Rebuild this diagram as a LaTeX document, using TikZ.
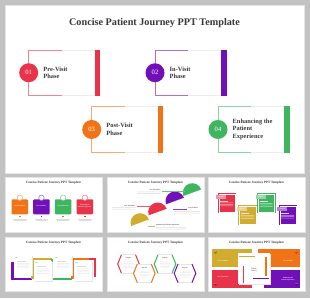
\documentclass[tikz,border=0pt]{standalone}
\usepackage{fontspec}
\setmainfont{Liberation Serif}
\usetikzlibrary{shapes.geometric}

\definecolor{pred}{HTML}{E8334A}
\definecolor{ppurple}{HTML}{7210B8}
\definecolor{porange}{HTML}{F07417}
\definecolor{pgreen}{HTML}{3FB560}
\definecolor{pgold}{HTML}{D1AC2E}
\definecolor{backdrop}{HTML}{C2C2C2}
\definecolor{ink}{HTML}{383838}

\tikzset{
  slide/.style={fill=white, draw=black!10, line width=0.4pt},
  maintitle/.style={text=ink, font=\bfseries\fontsize{10.2}{10.6}\selectfont, inner sep=0pt},
  thumbtitle/.style={text=ink, font=\bfseries\fontsize{3.3}{3.5}\selectfont, inner sep=0pt},
  numdot/.style={circle, fill=#1, minimum size=19pt, inner sep=0pt, text=white,
    font=\fontsize{6.6}{6.6}\selectfont},
  phase/.style={anchor=west, align=left, text=ink, inner sep=0pt,
    font=\bfseries\fontsize{6.4}{7.6}\selectfont},
  tinytext/.style={inner sep=0pt, align=center, font=\bfseries\fontsize{1.6}{1.9}\selectfont},
  greyline/.style={fill=black!14},
}

\begin{document}
\begin{tikzpicture}[x=1pt, y=-1pt]
\fill[backdrop] (0,0) rectangle (310,298);
\useasboundingbox (0,0) rectangle (310,298);

% main slide
\draw[slide] (5,5) rectangle (304,173);
\node[maintitle] (title) at (154.5,23) {Concise Patient Journey PPT Template};

\foreach \L/\T/\col/\num/\txt in {28.7/50/pred/01/{Pre-Visit\\Phase},
    155/50/ppurple/02/{In-Visit\\Phase},
    91.7/106.7/porange/03/{Post-Visit\\Phase},
    218/106.7/pgreen/04/{Enhancing the\\Patient\\Experience}} {
  \draw[black!7, line width=1pt] (\L+33,\T) -- (\L+66,\T) (\L+33,\T+45.5) -- (\L+66,\T+45.5);
  \draw[\col!60, line width=1pt] (\L+33,\T) -- (\L,\T) -- (\L,\T+45.5) -- (\L+33,\T+45.5);
  \fill[\col] (\L+66,\T-0.5) rectangle (\L+71.5,\T+46);
  \node[numdot=\col] (dot\num) at (\L,\T+22.75) {\num};
  \node[phase] (phase\num) at (\L+14.5,\T+22.75) {\txt};
}

% thumbnails
\foreach \px/\py/\k in {5/177.3/1, 107/177.3/2, 208/177.3/3, 5/236.7/4, 107/236.7/5, 208/236.7/6} {
  \draw[slide] (\px,\py) rectangle ++(97,54.5);
  \node[thumbtitle] (thumb\k) at (\px+48.5,\py+5.6) {Concise Patient Journey PPT Template};
}

% thumb 1: boxes
\begin{scope}[shift={(5,177.3)}]
  \foreach \i/\col/\txt in {0/porange/{Pre-Visit Phase}, 1/ppurple/{In-Visit Phase},
      2/pgreen/{Post-Visit Phase}, 3/pred/{Enhancing the\\Patient Experience}} {
    \fill[\col, rounded corners=1pt] (6.5+21.7*\i,22) rectangle ++(16.5,15);
    \node[circle, draw=\col!70, fill=white, line width=0.5pt, minimum size=5.5pt,
      inner sep=0pt] (ring\i) at (14.75+21.7*\i,20.5) {};
    \node[tinytext, text=white] (box\i) at (14.75+21.7*\i,28.5) {\txt};
    \fill[\col] (14+21.7*\i,38.2) rectangle ++(1.5,1.5);
    \fill[greyline] (8+21.7*\i,41.2) rectangle ++(13.5,0.6);
    \fill[greyline] (9+21.7*\i,43) rectangle ++(11.5,0.6);
  }
\end{scope}

% thumb 2: fans
\begin{scope}[shift={(107,177.3)}]
  \foreach \cx/\cy/\col in {33/45.4/pgold, 50.7/34.7/pred, 68/23.7/ppurple, 85.3/15.4/pgreen}
    \fill[\col] (\cx,\cy) ++(160:9.5) arc[start angle=160, end angle=340, radius=9.5] -- cycle;
  \draw[pgreen!80, line width=0.5pt] (54.7,13.7) -- (78,13.7);
  \draw[pred!80, line width=0.5pt] (29.7,29.4) -- (43,29.4);
  \draw[ppurple!80, line width=0.5pt] (66,32) -- (79.7,32);
  \draw[pgold!80, line width=0.5pt] (41.3,49.4) -- (48,49.4);
  \node[tinytext, text=ink, anchor=east] (lab1) at (53.5,12.6) {Pre-Visit Phase};
  \node[tinytext, text=ink, anchor=east] (lab2) at (28.5,28.3) {Post-Visit Phase};
  \node[tinytext, text=ink, anchor=west] (lab3) at (81,30.9) {In-Visit Phase};
  \node[tinytext, text=ink, anchor=west] (lab4) at (49,48.3) {Enhancing the Patient Experience};
  \fill[greyline] (30,14.4) rectangle ++(23.5,0.5) (30,16) rectangle ++(23.5,0.5);
  \fill[greyline] (5,30) rectangle ++(23.5,0.5) (5,31.6) rectangle ++(23.5,0.5);
  \fill[greyline] (67,34) rectangle ++(26,0.5) (67,35.6) rectangle ++(26,0.5);
  \fill[greyline] (49,50) rectangle ++(30,0.5) (49,51.6) rectangle ++(30,0.5);
\end{scope}

% thumb 3: steps
\begin{scope}[shift={(208,177.3)}]
  \foreach \bx/\by/\col/\n in {9.7/15.4/pred/01, 30.3/28/pgold/02, 49/16/pgreen/03, 70.7/27.7/ppurple/04} {
    \fill[\col] (\bx,\by) rectangle ++(18.5,20);
    \draw[white, line width=0.4pt] (\bx+1,\by+1) rectangle ++(16.5,18);
    \fill[\col!55] (\bx-1.5,\by+2) rectangle ++(10,4);
    \node[tinytext, text=white] (step\n) at (\bx+3.5,\by+4) {Step \n};
    \fill[white!80!\col] (\bx+2.5,\by+8) rectangle ++(8,0.6);
    \fill[white!60!\col] (\bx+2.5,\by+10) rectangle ++(13,0.5) (\bx+2.5,\by+11.4) rectangle ++(13,0.5)
      (\bx+2.5,\by+12.8) rectangle ++(13,0.5);
  }
\end{scope}

% thumb 4: path
\begin{scope}[shift={(5,236.7)}]
  \draw[ppurple, line width=2.6pt] (7.3,25) -- (7.3,42.3) -- (27.3,42.3);
  \draw[pgold, line width=2.6pt] (27.3,42.3) -- (27.3,22.3) -- (47,22.3);
  \draw[pgreen, line width=2.6pt] (47,22.3) -- (47,42.3) -- (67.3,42.3);
  \draw[porange, line width=2.6pt] (67.3,42.3) -- (67.3,22.3) -- (84,22.3);
  \draw[pred, line width=2.6pt] (84,22.3) -- (90,22.3) -- (90,40);
  \foreach \cx/\cy/\n in {9/19/01, 29/24.3/02, 49/19/03, 69/24.3/04} {
    \fill[black!10] (\cx+0.5,\cy+0.5) rectangle ++(18.3,20);
    \fill[white] (\cx,\cy) rectangle ++(18.3,20);
    \node[tinytext, text=ink] (card\n) at (\cx+2.5,\cy+2) {\n};
    \fill[greyline] (\cx+3,\cy+5) rectangle ++(9,0.6);
    \fill[black!9] (\cx+3,\cy+7.5) rectangle ++(12,0.5) (\cx+3,\cy+9) rectangle ++(12,0.5)
      (\cx+3,\cy+10.5) rectangle ++(12,0.5) (\cx+3,\cy+12) rectangle ++(12,0.5);
  }
\end{scope}

% thumb 5: hexagons
\begin{scope}[shift={(107,236.7)}]
  \foreach \hx/\hy/\col/\n in {21.5/27.3/pred/01, 37.3/36.6/porange/02, 58/27.3/pgreen/03, 78/36.6/ppurple/04} {
    \fill[white] (\hx-7,\hy-9.3) -- (\hx+7,\hy-9.3) -- (\hx+10.8,\hy) -- (\hx+7,\hy+9.3)
      -- (\hx-7,\hy+9.3) -- (\hx-10.8,\hy) -- cycle;
    \draw[black!10, line width=0.5pt] (\hx-7,\hy-9.3) -- (\hx+7,\hy-9.3) (\hx-7,\hy+9.3) -- (\hx+7,\hy+9.3);
    \draw[\col, line width=1pt] (\hx-7,\hy-9.3) -- (\hx-10.8,\hy) -- (\hx-7,\hy+9.3);
    \draw[\col, line width=1pt] (\hx+7,\hy-9.3) -- (\hx+10.8,\hy) -- (\hx+7,\hy+9.3);
    \node[tinytext, text=ink] (hex\n) at (\hx,\hy-5.5) {Step \n};
    \fill[black!9] (\hx-5,\hy-2.5) rectangle ++(10,0.5) (\hx-5,\hy-1) rectangle ++(10,0.5)
      (\hx-5,\hy+0.5) rectangle ++(10,0.5) (\hx-5,\hy+2) rectangle ++(10,0.5) (\hx-4,\hy+3.5) rectangle ++(8,0.5);
  }
\end{scope}

% thumb 6: quarters
\begin{scope}[shift={(208,236.7)}]
  \fill[pgold] (4,12.3) rectangle (44,30.6);
  \fill[porange] (50,12.3) rectangle (92,30.6);
  \fill[pred] (4,33.3) rectangle (44,51.6);
  \fill[ppurple] (56,33.3) rectangle (92,51.6);
  \node[tinytext, text=white] (q1) at (15,24.5) {Pre-Visit Phase};
  \node[tinytext, text=white] (q2) at (80,24.5) {In-Visit Phase};
  \node[tinytext, text=white] (q3) at (15,40) {Post-Visit Phase};
  \node[tinytext, text=white] (q4) at (80,42) {Enhancing the\\Patient Experience};
  \foreach \dx/\dy/\col/\n in {7.5/15.5/pgold/01, 88.5/15.5/porange/02, 7.5/47.5/pred/03, 88.5/47.5/ppurple/04}
    \node[circle, fill=\col!70!black, minimum size=3.4pt, inner sep=0pt, tinytext, text=white] (qd\n) at (\dx,\dy) {\n};
  \fill[black!10] (30.5,17.2) rectangle (62.8,48);
  \fill[white] (29.7,16.6) rectangle (62,47.3);
  \fill[pgold] (31.3,19.4) rectangle (47.3,20.6);
  \fill[porange] (57.4,20) rectangle (58.6,39.6);
  \fill[pred] (34.7,29.3) rectangle (35.9,46.3);
  \fill[ppurple] (44.7,41) rectangle (60.7,42.2);
  \node[tinytext, text=ink] (centre) at (46,33) {Patient\\Journey};
\end{scope}
\end{tikzpicture}
\end{document}
